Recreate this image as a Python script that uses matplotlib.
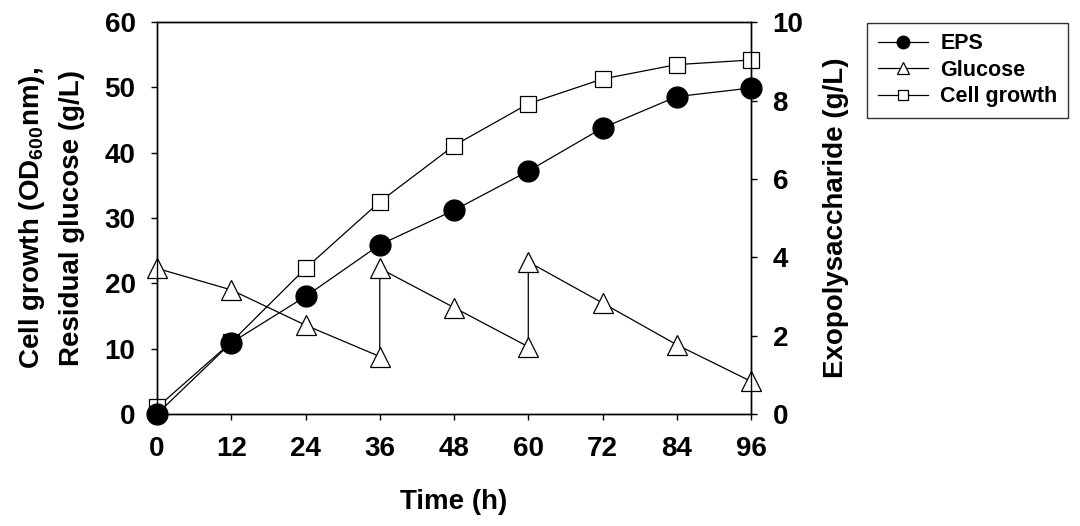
import matplotlib
matplotlib.use("Agg")
import matplotlib.pyplot as plt

plt.rcParams['font.family'] = ['Liberation Sans', 'DejaVu Sans']
plt.rcParams['font.weight'] = 'bold'
plt.rcParams['mathtext.fontset'] = 'custom'
plt.rcParams['mathtext.rm'] = 'Liberation Sans:bold'
plt.rcParams['mathtext.bf'] = 'Liberation Sans:bold'

# Data
time = [0, 12, 24, 36, 48, 60, 72, 84, 96]
eps = [0.0, 1.82, 3.0, 4.32, 5.2, 6.2, 7.3, 8.1, 8.32]            # g/L, right axis
cell = [1.0, 11.0, 22.3, 32.5, 41.1, 47.5, 51.3, 53.5, 54.2]      # OD600, left axis
# glucose with feeding steps at 36 h and 60 h
glc_time = [0, 12, 24, 36, 36, 48, 60, 60, 72, 84, 96]
glucose = [22.3, 19.0, 13.6, 8.8, 22.3, 16.3, 10.3, 23.3, 17.0, 10.6, 5.0]

fig = plt.figure(figsize=(10.8, 5.26), dpi=100)
ax = fig.add_axes([0.1454, 0.2129, 0.55, 0.745])
ax2 = ax.twinx()

lw = 0.9
ax.plot(glc_time, glucose, color='black', lw=lw, marker='^', ms=14,
        mfc='white', mec='black', mew=0.9, label='Glucose', zorder=3, clip_on=False)
ax.plot(time, cell, color='black', lw=lw, marker='s', ms=12,
        mfc='white', mec='black', mew=0.9, label='Cell growth', zorder=4, clip_on=False)
ax2.plot(time, eps, color='black', lw=lw, marker='o', ms=15,
         mfc='black', mec='black', label='EPS', zorder=5, clip_on=False)

ax.set_xlim(0, 96)
ax.set_ylim(0, 60)
ax2.set_ylim(0, 10)
ax.set_xticks(time)
ax.set_yticks(range(0, 61, 10))
ax2.set_yticks(range(0, 11, 2))

for a in (ax, ax2):
    a.tick_params(direction='out', length=4.5, width=1, labelsize=20, pad=11)
    for s in a.spines.values():
        s.set_linewidth(1)
    for lab in a.get_xticklabels() + a.get_yticklabels():
        lab.set_fontweight('bold')

ax.set_xlabel('Time (h)', fontsize=20, fontweight='bold', labelpad=20)
ax.set_ylabel('Cell growth (OD$_{\\mathrm{600}}$nm),\nResidual glucose (g/L)',
              fontsize=20, fontweight='bold', labelpad=14, linespacing=1.6)
ax2.set_ylabel('Exopolysaccharide (g/L)', fontsize=20, fontweight='bold', labelpad=14)

h1, l1 = ax.get_legend_handles_labels()
h2, l2 = ax2.get_legend_handles_labels()
handles = [h2[0], h1[0], h1[1]]
labels = [l2[0], l1[0], l1[1]]
leg = fig.legend(handles, labels, loc='upper left', bbox_to_anchor=(0.803, 0.957),
                 borderaxespad=0, frameon=True, fancybox=False, edgecolor='black',
                 fontsize=15.5, markerscale=0.6, handlelength=2.3, borderpad=0.5,
                 labelspacing=0.25, handletextpad=0.6)
leg.get_frame().set_linewidth(1)
for t in leg.get_texts():
    t.set_fontweight('bold')

fig.savefig('out.png', dpi=100)
